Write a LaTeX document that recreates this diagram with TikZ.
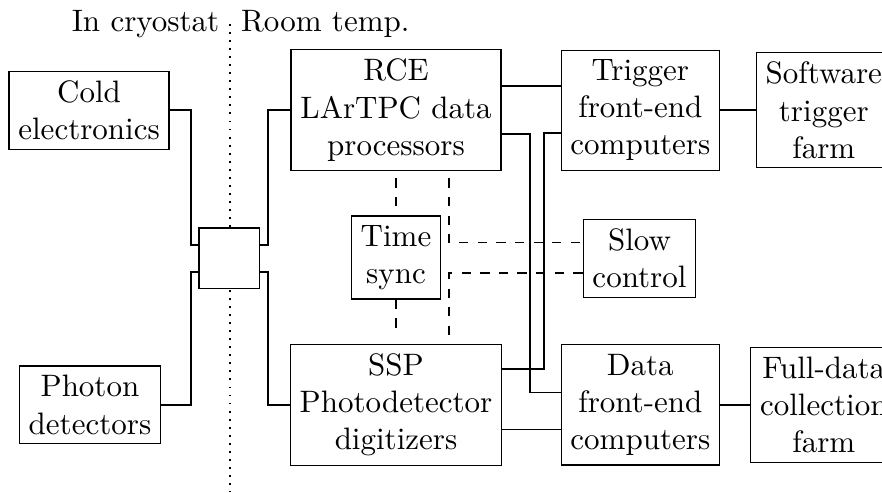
\documentclass[tikz,border=0pt]{standalone}
\usepackage{tikz}
\usetikzlibrary{calc}
\usepackage{xcolor}

\begin{document}
\begin{tikzpicture}[scale=1]
        % ================= 样式定义 =================
        \tikzset{
            % 方框节点:白底黑边
            blk/.style={rectangle, draw=black, fill=white, align=center, inner sep=3pt},
            % 实线连线 (数据通路)
            wire/.style={semithick, black},
            % 虚线连线 (时钟与慢控制)
            ctrl/.style={semithick, black, dashed},
            % 低温/室温分界线
            border_line/.style={semithick, black, dotted}
        }

        % 画布范围 (右侧被裁切)
        \useasboundingbox (0,0) rectangle (10.0,-5.58);

        % ================= 分界线与标题 =================
        \coordinate (top) at (2.61,-0.27);
        \coordinate (bot) at (2.61,-5.58);
        \draw[border_line] (top) -- (bot);
        \node[anchor=east] (cryo) at (top) {In cryostat};
        \node[anchor=west] (room) at (top) {Room temp.};

        % ================= 节点 =================
        \node[blk] (cold) at (1.01,-1.25) {Cold\\electronics};
        \node[blk] (phot) at (1.02,-4.59) {Photon\\detectors};
        \node[blk, minimum size=6.9mm] (feed) at (2.60,-2.93) {};

        \node[blk] (rce) at (4.49,-1.25) {RCE\\LArTPC data\\processors};
        \node[blk] (sync) at (4.49,-2.92) {Time\\sync};
        \node[blk] (ssp) at (4.49,-4.59) {SSP\\Photodetector\\digitizers};

        \node[blk] (trig) at (7.26,-1.25) {Trigger\\front-end\\computers};
        \node[blk] (slow) at (7.25,-2.93) {Slow\\control};
        \node[blk] (data) at (7.26,-4.59) {Data\\front-end\\computers};

        \node[blk] (soft) at (9.34,-1.25) {Software\\trigger\\farm};
        \node[blk] (full) at (9.34,-4.59) {Full-data\\collection\\farm};

        % ================= 低温端连线 =================
        \draw[wire] (cold.east) -| ([xshift=-0.8mm,yshift=1.5mm]feed.west) -- ([yshift=1.5mm]feed.west);
        \draw[wire] (phot.east) -| ([xshift=-0.8mm,yshift=-1.5mm]feed.west) -- ([yshift=-1.5mm]feed.west);
        \draw[wire] ([yshift=1.5mm]feed.east) -- ([xshift=0.9mm,yshift=1.5mm]feed.east) |- (rce.west);
        \draw[wire] ([yshift=-1.5mm]feed.east) -- ([xshift=0.9mm,yshift=-1.5mm]feed.east) |- (ssp.west);

        % ================= 室温端数据连线 =================
        \draw[wire] ([yshift=2.7mm]rce.east) -- ([yshift=2.7mm]trig.west);
        \draw[wire] ([yshift=-2.7mm]rce.east) -| ([xshift=-3.5mm,yshift=1.4mm]data.west) -- ([yshift=1.4mm]data.west);
        \draw[wire] ([yshift=-2.6mm]trig.west) -| ([xshift=4.7mm,yshift=4.1mm]ssp.east) -- ([yshift=4.1mm]ssp.east);
        \draw[wire] ([yshift=-2.8mm]ssp.east) -- ([yshift=-2.8mm]data.west);
        \draw[wire] (trig.east) -- (soft.west);
        \draw[wire] (data.east) -- (full.west);

        % ================= 时钟与慢控制 (虚线) =================
        \draw[ctrl] ([yshift=-0.8mm]rce.south) -- (sync.north);
        \draw[ctrl] (sync.south) -- ([yshift=0.8mm]ssp.north);
        \draw[ctrl] ([xshift=6mm,yshift=-0.8mm]rce.south) |- ([yshift=1.8mm]slow.west);
        \draw[ctrl] ([yshift=-1.7mm]slow.west) -| ([xshift=6mm,yshift=0.8mm]ssp.north);

    \end{tikzpicture}
\end{document}
